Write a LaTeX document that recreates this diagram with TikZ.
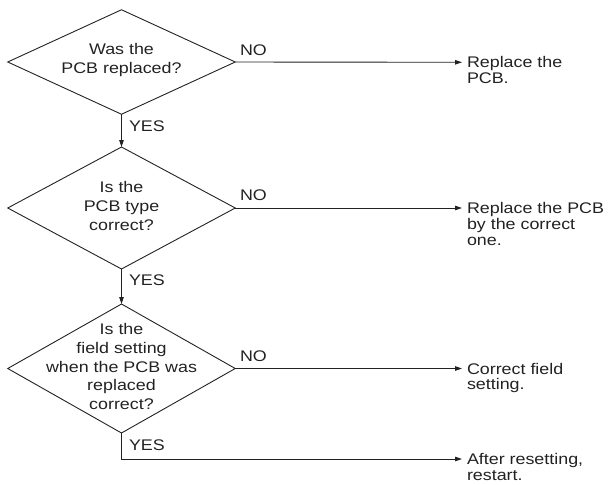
\documentclass[tikz,border=0pt]{standalone}
\usepackage{fontspec}
\setmainfont{Liberation Sans}[FakeStretch=1.16]
\usetikzlibrary{shapes.geometric,arrows.meta}
\definecolor{ink}{HTML}{222222}
\begin{document}
\begin{tikzpicture}[x=1pt,y=-1pt,
  every node/.style={text=ink,inner sep=0pt,outer sep=0pt},
  decision/.style={diamond,draw=ink,line width=0.9pt,minimum width=227.5pt},
  qtext/.style={align=center,font=\fontsize{15.4}{18.8}\selectfont},
  action/.style={align=left,anchor=north west,font=\fontsize{15.4}{15.8}\selectfont},
  answer/.style={anchor=west,font=\fontsize{15.4}{18}\selectfont},
  flow/.style={draw=ink,line width=0.9pt,-{Triangle[length=7pt,width=4.5pt]}},
  plain/.style={draw=ink,line width=0.9pt}]
  \useasboundingbox (0,0) rectangle (612,484);

  % decision diamonds
  \node[decision,minimum height=104.5pt] (q1) at (121.5,62) {};
  \node[decision,minimum height=122pt]   (q2) at (121.5,208) {};
  \node[decision,minimum height=129pt]   (q3) at (121.5,368.5) {};
  \node[qtext] (q1t) at (121.5,60) {Was the\\PCB replaced?};
  \node[qtext] (q2t) at (121.5,206) {Is the\\PCB type\\correct?};
  \node[qtext] (q3t) at (121.5,366.5) {Is the\\field setting\\when the PCB was\\replaced\\correct?};

  % arrow tips on the right
  \coordinate (t1) at (462,62.3);
  \coordinate (t2) at (462,208);
  \coordinate (t3) at (462,368.5);
  \coordinate (t4) at (462,459);

  % actions
  \node[action] (a1) at ([xshift=5pt,yshift=5.5pt]t1) {Replace the\\PCB.};
  \node[action] (a2) at ([xshift=5pt,yshift=5.5pt]t2) {Replace the PCB\\by the correct\\one.};
  \node[action] (a3) at ([xshift=5pt,yshift=5.5pt]t3) {Correct field\\setting.};
  \node[action] (a4) at ([xshift=5pt,yshift=5.5pt]t4) {After resetting,\\restart.};

  % connectors
  \draw[flow] (q1.south) -- (q2.north);
  \draw[flow] (q2.south) -- (q3.north);
  \draw[flow] (q1.east) -- (t1);
  \draw[flow] (q2.east) -- (t2);
  \draw[flow] (q3.east) -- (t3);
  \draw[flow] (q3.south) |- (t4);

  % branch labels
  \node[answer] (n1) at (240,50) {NO};
  \node[answer] (n2) at (240,195.5) {NO};
  \node[answer] (n3) at (240,356) {NO};
  \node[answer] (y1) at (129,126) {YES};
  \node[answer] (y2) at (129,280.5) {YES};
  \node[answer] (y3) at (129,445) {YES};
\end{tikzpicture}
\end{document}
